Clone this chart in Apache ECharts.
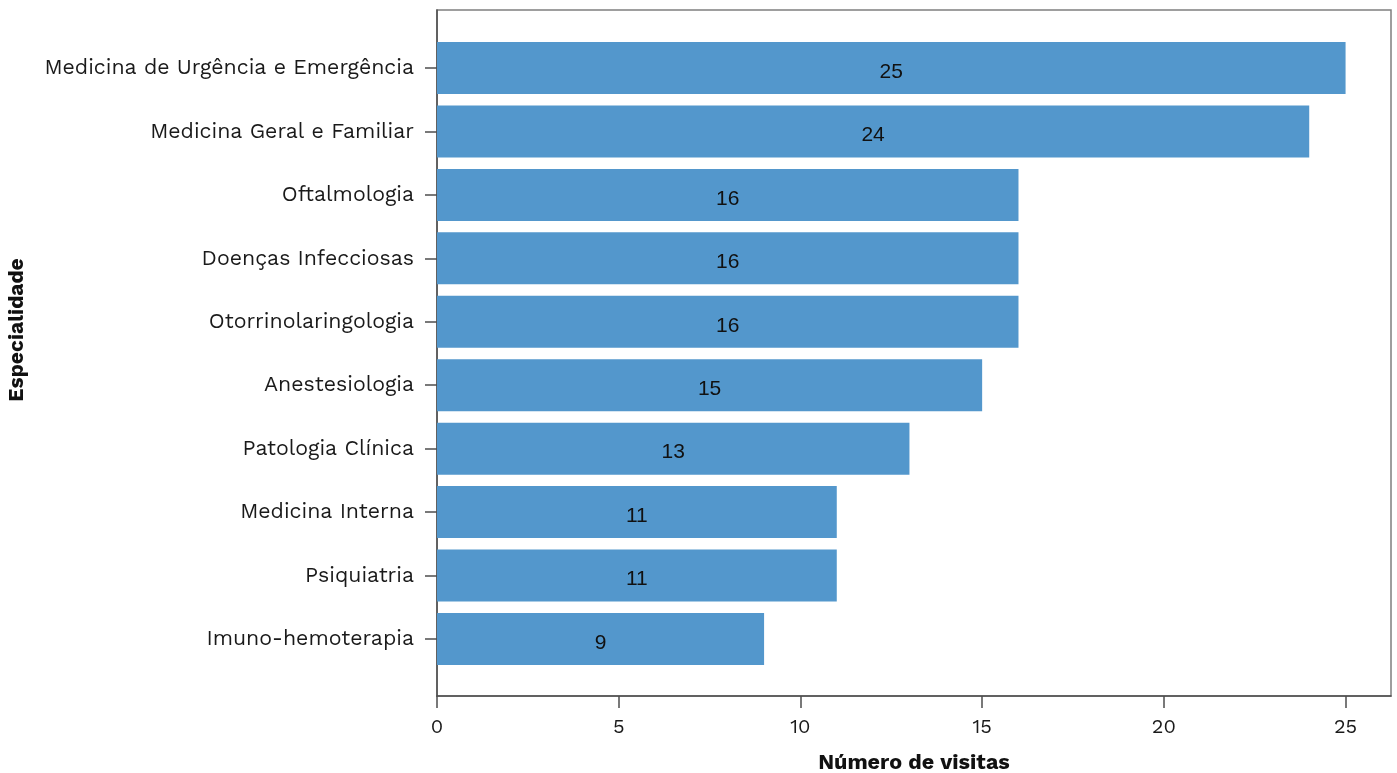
<!DOCTYPE html>
<html>
<head>
<meta charset="utf-8">
<script src="https://cdn.jsdelivr.net/npm/echarts@6/dist/echarts.min.js"></script>
<style>
html,body{margin:0;padding:0;background:#fff;}
#c{width:1397px;height:773px;}
</style>
</head>
<body>
<div id="c"></div>
<script>
const categories = [
  "Medicina de Urgência e Emergência",
  "Medicina Geral e Familiar",
  "Oftalmologia",
  "Doenças Infecciosas",
  "Otorrinolaringologia",
  "Anestesiologia",
  "Patologia Clínica",
  "Medicina Interna",
  "Psiquiatria",
  "Imuno-hemoterapia"
];
const visits = [25, 24, 16, 16, 16, 15, 13, 11, 11, 9];
const xTicks = [0, 5, 10, 15, 20, 25];
const xTitle = "Número de visitas";
const yTitle = "Especialidade";

const W = 1397, H = 773;
const plotL = 437, plotR = 1391, plotT = 10, plotB = 696;
const band = 63.44;
const barsT = 68 - band / 2, barsB = 639 + band / 2;
const xMax = 26.25;

const chart = echarts.init(document.getElementById('c'), null, {renderer: 'canvas'});
const labelFont = "'Work Sans','Inter','Open Sans',sans-serif";
chart.setOption({
  animation: false,
  backgroundColor: '#ffffff',
  grid: [
    {left: plotL, right: W - plotR, top: plotT, bottom: H - plotB, show: true,
     borderColor: '#7f7f7f', borderWidth: 1.5, backgroundColor: 'transparent'},
    {left: plotL, right: W - plotR, top: barsT, bottom: H - barsB}
  ],
  xAxis: [
    {gridIndex: 0, type: 'value', min: 0, max: xMax, interval: 5,
     axisLine: {show: true, lineStyle: {color: '#4d4d4d', width: 1.5}},
     axisTick: {show: true, length: 12, lineStyle: {color: '#4d4d4d', width: 1.5}},
     axisLabel: {show: true, fontSize: 20, color: '#1a1a1a', fontFamily: labelFont, margin: 21,
       showMaxLabel: false,
       formatter: v => xTicks.includes(v) ? String(v) : ''},
     splitLine: {show: false}},
    {gridIndex: 1, type: 'value', min: 0, max: xMax, show: false}
  ],
  yAxis: [
    {gridIndex: 0, type: 'value', min: 0, max: 1,
     axisLine: {show: true, lineStyle: {color: '#4d4d4d', width: 1.5}},
     axisTick: {show: false}, axisLabel: {show: false}, splitLine: {show: false}},
    {gridIndex: 1, type: 'category', inverse: true, data: categories,
     axisLine: {show: false},
     axisTick: {show: true, alignWithLabel: true, length: 12, lineStyle: {color: '#4d4d4d', width: 1.5}},
     axisLabel: {fontSize: 21.3, color: '#1a1a1a', fontFamily: labelFont, margin: 23, padding: [3, 0, 0, 0]},
     splitLine: {show: false}}
  ],
  series: [{
    type: 'bar', xAxisIndex: 1, yAxisIndex: 1, data: visits,
    barCategoryGap: '18%',
    itemStyle: {color: '#5397CC'},
    label: {show: true, position: 'inside', color: '#111111', fontSize: 21,
      fontFamily: "'Liberation Sans', Arial, sans-serif", offset: [0, 4]}
  }],
  graphic: [
    {type: 'text', x: (plotL + plotR) / 2, y: 763,
     style: {text: xTitle, x: 0, y: 0, textAlign: 'center', textVerticalAlign: 'middle',
       fill: '#111', font: "bold 21.5px 'Work Sans','Inter','Open Sans',sans-serif"}},
    {type: 'text', x: 17, y: 330, rotation: Math.PI / 2,
     style: {text: yTitle, x: 0, y: 0, textAlign: 'center', textVerticalAlign: 'middle',
       fill: '#111', font: "bold 21px 'Work Sans','Inter','Open Sans',sans-serif"}}
  ]
});
</script>
</body>
</html>
